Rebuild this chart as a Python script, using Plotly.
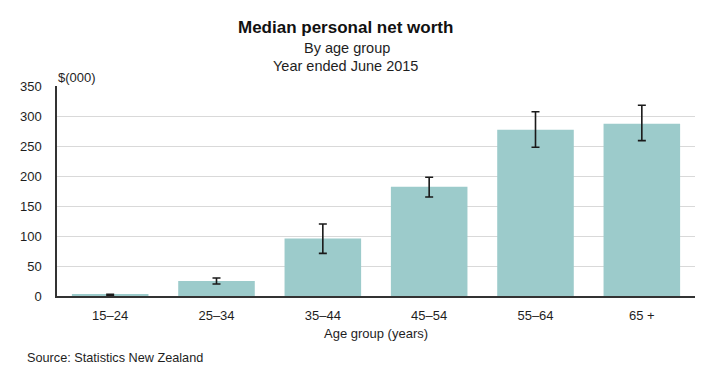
import plotly.graph_objects as go

categories = ["15–24", "25–34", "35–44", "45–54", "55–64", "65 +"]
values = [2, 25, 96, 182, 277, 287]
err_upper = [3, 30, 120, 198, 307, 318]
err_lower = [1, 20, 71, 165, 248, 259]

plus = [u - v for u, v in zip(err_upper, values)]
minus = [v - l for v, l in zip(values, err_lower)]

FONT = "Liberation Sans, Arial, sans-serif"
TXT = "#1e1e1e"

# page has an 8px body margin; figure sized so it fills the 716x375 window
W, H = 708, 367
L, R, T, B = 44, 21, 78, 79
PW, PH = W - L - R, H - T - B


def xp(px):
    return ((px - 8) - L) / PW


def yp(py):
    return (H - B - (py - 8)) / PH


fig = go.Figure()
fig.add_trace(go.Bar(
    x=categories, y=values,
    marker=dict(color="#9ccbcb", line=dict(width=0)),
    error_y=dict(type="data", symmetric=False, array=plus, arrayminus=minus,
                 color="#1a1a1a", thickness=1.6, width=4),
    hoverinfo="x+y",
))

fig.update_layout(
    width=W, height=H,
    margin=dict(l=L, r=R, t=T, b=B, pad=0),
    paper_bgcolor="white", plot_bgcolor="white",
    font=dict(family=FONT, size=13, color=TXT),
    bargap=0.28,
    showlegend=False,
    xaxis=dict(
        showline=True, linecolor="#333333", linewidth=1.5,
        ticks="outside", ticklen=7, tickcolor="rgba(0,0,0,0)",
        tickfont=dict(size=13, color=TXT),
        showgrid=False,
    ),
    yaxis=dict(
        range=[0, 350], dtick=50,
        showline=True, linecolor="#333333", linewidth=1.5,
        showgrid=True, gridcolor="#d9d9d9", gridwidth=1.3,
        zeroline=False, ticks="outside", ticklen=11, tickcolor="rgba(0,0,0,0)",
        tickfont=dict(size=13, color=TXT),
    ),
)

fig.add_annotation(text="<b>Median personal net worth</b>", x=xp(343), y=yp(27.5),
                   xref="paper", yref="paper", showarrow=False,
                   font=dict(size=17, color="#111111"), xanchor="center", yanchor="middle")
fig.add_annotation(text="By age group", x=xp(344), y=yp(47.5),
                   xref="paper", yref="paper", showarrow=False,
                   font=dict(size=14.5, color=TXT), xanchor="center", yanchor="middle")
fig.add_annotation(text="Year ended June 2015", x=xp(343), y=yp(66),
                   xref="paper", yref="paper", showarrow=False,
                   font=dict(size=14.5, color=TXT), xanchor="center", yanchor="middle")
fig.add_annotation(text="$(000)", x=xp(51), y=yp(78),
                   xref="paper", yref="paper", showarrow=False,
                   font=dict(size=13, color=TXT), xanchor="left", yanchor="middle")
fig.add_annotation(text="Age group (years)", x=xp(373), y=yp(333),
                   xref="paper", yref="paper", showarrow=False,
                   font=dict(size=13, color=TXT), xanchor="center", yanchor="middle")
fig.add_annotation(text="Source: Statistics New Zealand", x=xp(20), y=yp(358),
                   xref="paper", yref="paper", showarrow=False,
                   font=dict(size=12.7, color=TXT), xanchor="left", yanchor="middle")

fig.write_html("out.html")
